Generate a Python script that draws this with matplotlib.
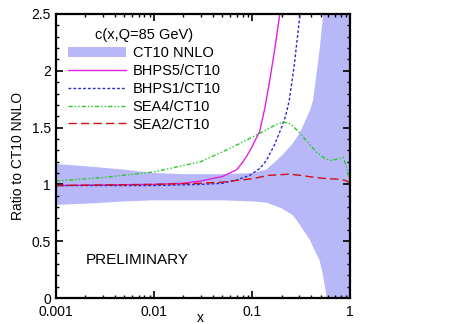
import numpy as np
import matplotlib
matplotlib.use("Agg")
import matplotlib.pyplot as plt
from matplotlib.ticker import MultipleLocator, FixedLocator, LogLocator, NullFormatter, FuncFormatter

plt.rcParams['font.family'] = ['Liberation Sans', 'DejaVu Sans']

# CT10 NNLO uncertainty band (ratio)
band_x = [0.001, 0.002, 0.005, 0.01, 0.02, 0.05, 0.1, 0.14, 0.2, 0.26, 0.31, 0.39, 0.42, 0.49, 0.53, 0.58, 0.7, 0.85, 1.0]
band_hi = [1.18, 1.16, 1.13, 1.10, 1.09, 1.09, 1.10, 1.13, 1.25, 1.36, 1.46, 1.65, 1.74, 2.19, 2.48, 3.0, 3.0, 3.0, 3.0]
band_lo = [0.82, 0.83, 0.85, 0.86, 0.86, 0.86, 0.85, 0.84, 0.79, 0.73, 0.64, 0.51, 0.45, 0.33, 0.2, 0.0, -0.1, -0.1, -0.1]

# BHPS5/CT10
bhps5_x = [0.001, 0.003, 0.01, 0.02, 0.03, 0.05, 0.07, 0.081, 0.09, 0.1, 0.12, 0.135, 0.15, 0.17, 0.19, 0.2]
bhps5_y = [0.99, 0.995, 1.0, 1.01, 1.03, 1.07, 1.13, 1.2, 1.26, 1.33, 1.47, 1.67, 1.89, 2.18, 2.47, 2.62]

# BHPS1/CT10
bhps1_x = [0.001, 0.01, 0.03, 0.05, 0.07, 0.095, 0.12, 0.14, 0.17, 0.2, 0.22, 0.24, 0.27, 0.3, 0.32]
bhps1_y = [0.99, 0.99, 1.0, 1.01, 1.04, 1.08, 1.14, 1.21, 1.35, 1.5, 1.6, 1.74, 2.05, 2.4, 2.6]

# SEA4/CT10
sea4_x = [0.001, 0.003, 0.01, 0.03, 0.064, 0.12, 0.17, 0.21, 0.25, 0.31, 0.38, 0.46, 0.55, 0.62, 0.72, 0.85, 0.9, 0.95, 0.98]
sea4_y = [1.03, 1.06, 1.11, 1.20, 1.33, 1.45, 1.52, 1.55, 1.53, 1.45, 1.36, 1.28, 1.23, 1.21, 1.22, 1.24, 1.18, 1.11, 1.07]

# SEA2/CT10
sea2_x = [0.001, 0.01, 0.03, 0.05, 0.1, 0.15, 0.24, 0.31, 0.45, 0.6, 0.8, 0.93, 1.0]
sea2_y = [0.99, 1.0, 1.01, 1.02, 1.05, 1.08, 1.09, 1.08, 1.06, 1.05, 1.045, 1.03, 1.01]

xticks = [0.001, 0.01, 0.1, 1]
xtick_labels = ['0.001', '0.01', '0.1', '1']

fig = plt.figure(figsize=(4.65, 3.24), dpi=100)
ax = fig.add_axes([0.1204, 0.0802, 0.6323, 0.8766])

ax.fill_between(band_x, band_lo, band_hi, color='#b8b8f8', lw=0, label='CT10 NNLO')
ax.plot(bhps5_x, bhps5_y, color='#e020e0', lw=1.0, label='BHPS5/CT10')
ax.plot(bhps1_x, bhps1_y, color='#2a2ad0', lw=1.0, dashes=(2, 1.5), label='BHPS1/CT10')
ax.plot(sea4_x, sea4_y, color='#22cc22', lw=1.0, dashes=(3, 1.5, 1, 1.5, 1, 1.5), label='SEA4/CT10')
ax.plot(sea2_x, sea2_y, color='#cc1111', lw=1.0, dashes=(6, 3), label='SEA2/CT10')

ax.set_xscale('log')
ax.set_xlim(0.001, 1)
ax.set_ylim(0, 2.5)
ax.xaxis.set_major_locator(FixedLocator(xticks))
ax.set_xticklabels(xtick_labels)
ax.xaxis.set_minor_locator(LogLocator(base=10, subs=np.arange(2, 10)))
ax.xaxis.set_minor_formatter(NullFormatter())
ax.yaxis.set_major_locator(MultipleLocator(0.5))
ax.yaxis.set_minor_locator(MultipleLocator(0.1))
ax.yaxis.set_major_formatter(FuncFormatter(lambda v, p: '%g' % v))

ax.tick_params(which='both', direction='in', top=True, right=True, labelsize=10)
ax.tick_params(which='major', length=5, width=1.2)
ax.tick_params(axis='x', which='major', pad=5)
ax.tick_params(which='minor', length=2.5, width=1.0)
for s in ax.spines.values():
    s.set_linewidth(1.6)

ax.set_xlabel('x', fontsize=10)
ax.xaxis.label.set_va('center')
ax.xaxis.set_label_coords(0.49, -0.07)
ax.set_ylabel('Ratio to CT10 NNLO', fontsize=10, labelpad=5)

leg = ax.legend(title='c(x,Q=85 GeV)', loc='upper left', bbox_to_anchor=(0.01, 0.982),
                frameon=False, fontsize=10.5, title_fontsize=10.5, handlelength=4.0,
                handletextpad=0.45, labelspacing=0.27, borderaxespad=0.2)

ax.text(0.1, 0.135, 'PRELIMINARY', transform=ax.transAxes, fontsize=11, va='center', ha='left')

fig.savefig('out.png', dpi=100)
